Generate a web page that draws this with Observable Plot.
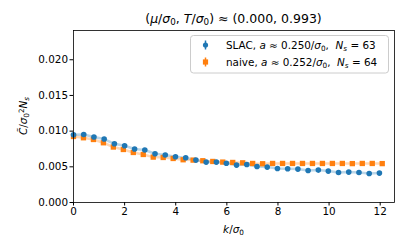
<!DOCTYPE html>
<html><head><meta charset="utf-8">
<script src="https://cdn.jsdelivr.net/npm/d3@7"></script>
<script src="https://cdn.jsdelivr.net/npm/@observablehq/plot@0.6"></script>
<style>
body{margin:0;background:#fff;font-family:"DejaVu Sans",sans-serif;}
#wrap{position:relative;width:407px;height:252px;}
</style></head><body><div id="wrap"></div>
<script>
// ---- data ----
const slacK = [0, 0.40, 0.80, 1.20, 1.60, 2.00, 2.39, 2.79, 3.19, 3.59, 3.99, 4.39, 4.79, 5.19, 5.59, 5.98,
  6.38, 6.78, 7.18, 7.58, 7.98, 8.38, 8.78, 9.18, 9.58, 9.97, 10.37, 10.77, 11.17, 11.57, 11.97];
const slacC = [0.00949, 0.00953, 0.00917, 0.00889, 0.00823, 0.00795, 0.00749, 0.00735, 0.00683, 0.00665,
  0.00641, 0.00627, 0.00594, 0.00566, 0.00566, 0.00549, 0.00524, 0.00533, 0.00505, 0.00496, 0.00477,
  0.00472, 0.00468, 0.00449, 0.00454, 0.00440, 0.00421, 0.00426, 0.00421, 0.00407, 0.00412];
const naiveK = [0, 0.39, 0.78, 1.17, 1.56, 1.95, 2.34, 2.73, 3.12, 3.51, 3.90, 4.29, 4.68, 5.06, 5.45, 5.84,
  6.23, 6.62, 7.01, 7.40, 7.79, 8.18, 8.57, 8.96, 9.35, 9.74, 10.13, 10.52, 10.91, 11.30, 11.69, 12.08];
const naiveC = [0.00925, 0.00907, 0.00883, 0.00837, 0.00777, 0.00743, 0.00701, 0.00673, 0.00636, 0.00631,
  0.00617, 0.00599, 0.00594, 0.00585, 0.00575, 0.00566, 0.00561, 0.00556, 0.00547, 0.00543, 0.00547,
  0.00547, 0.00547, 0.00547, 0.00547, 0.00547, 0.00547, 0.00547, 0.00545, 0.00547, 0.00547, 0.00545];
const xTicks = [0, 2, 4, 6, 8, 10, 12];
const yTicks = [0, 0.005, 0.010, 0.015, 0.020];
const seriesNames = ["SLAC", "naive"];
const seriesA = ["0.250", "0.252"];
const seriesN = ["63", "64"];
const colors = ["#1f77b4", "#ff7f0e"];

const slac = slacK.map((k, i) => ({k, c: slacC[i]}));
const naive = naiveK.map((k, i) => ({k, c: naiveC[i]}));

const plot = Plot.plot({
  width: 407, height: 252,
  marginLeft: 73, marginRight: 13, marginTop: 30, marginBottom: 50,
  style: {fontFamily: "DejaVu Sans", fontSize: "10.4px", color: "black", background: "white"},
  x: {domain: [0, 12.56], label: null},
  y: {domain: [0, 0.0241], label: null},
  marks: [
    Plot.line(slac, {x: "k", y: "c", stroke: colors[0], strokeOpacity: 0.3, strokeWidth: 2.5}),
    Plot.line(naive, {x: "k", y: "c", stroke: colors[1], strokeOpacity: 0.3, strokeWidth: 2.5}),
    Plot.dot(naive, {x: "k", y: "c", fill: colors[1], symbol: "square", r: 3}),
    Plot.dot(slac, {x: "k", y: "c", fill: colors[0], r: 2.8}),
    Plot.axisX({ticks: xTicks, tickFormat: d => String(d), tickSize: 3.5, tickPadding: 2, label: null}),
    Plot.axisY({ticks: yTicks, tickFormat: d3.format(".3f"), tickSize: 3.5, tickPadding: 2, label: null}),
    Plot.frame({stroke: "black", strokeWidth: 0.8})
  ]
});
document.getElementById("wrap").appendChild(plot);

// ---- math-like text helper ----
const svg = d3.select(plot);
function mathText(g, parts) {
  parts.forEach(p => {
    const [t, st] = p;
    const ts = g.append("tspan").text(t);
    if (st && st.includes("i")) ts.attr("font-style", "italic");
    if (st && st.includes("b")) ts.attr("baseline-shift", "-22%").attr("font-size", "70%");
    if (st && st.includes("p")) ts.attr("baseline-shift", "38%").attr("font-size", "70%");
  });
  return g;
}
const ff = "DejaVu Sans";
// title
mathText(svg.append("text").attr("x", 233.5).attr("y", 23).attr("text-anchor", "middle")
  .attr("font-family", ff).attr("font-size", "12.5px").attr("fill", "black"),
  [["("], ["μ", "i"], ["/"], ["σ", "i"], ["0", "b"], [", "], ["T", "i"], ["/"], ["σ", "i"], ["0", "b"], [") ≈ (0.000, 0.993)"]]);
// x label
mathText(svg.append("text").attr("x", 233.5).attr("y", 233).attr("text-anchor", "middle")
  .attr("font-family", ff).attr("font-size", "10.4px").attr("fill", "black"),
  [["k", "i"], ["/"], ["σ", "i"], ["0", "b"]]);
// y label
mathText(svg.append("text").attr("transform", "translate(27,116) rotate(-90)").attr("text-anchor", "middle")
  .attr("font-family", ff).attr("font-size", "10.4px").attr("fill", "black"),
  [["C\u0303", "i"], ["/"], ["σ", "i"], ["0", "b"], ["2", "p"], ["N", "i"], ["s", "ib"]]);

// legend
const lg = svg.append("g").attr("text-anchor", "start");
lg.append("rect").attr("x", 190.5).attr("y", 35.5).attr("width", 198).attr("height", 37.5).attr("rx", 3)
  .attr("fill", "white").attr("fill-opacity", 0.8).attr("stroke", "#cccccc").attr("stroke-width", 1);
seriesNames.forEach((name, i) => {
  const cy = 45 + i * 17;
  lg.append("line").attr("x1", 205.5).attr("x2", 205.5).attr("y1", cy - 4.5).attr("y2", cy + 4.5)
    .attr("stroke", colors[i]).attr("stroke-width", 1.5);
  if (i === 0) lg.append("circle").attr("cx", 205.5).attr("cy", cy).attr("r", 2.6).attr("fill", colors[i]);
  else lg.append("rect").attr("x", 202.9).attr("y", cy - 2.6).attr("width", 5.2).attr("height", 5.2).attr("fill", colors[i]);
  mathText(lg.append("text").attr("x", 226).attr("y", cy + 3.8).attr("text-anchor", "start").attr("font-family", ff)
    .attr("font-size", "10.4px").attr("fill", "black"),
    [[name + ", "], ["a", "i"], [" ≈ " + seriesA[i] + "/"], ["σ", "i"], ["0", "b"], [",  "], ["N", "i"], ["s", "ib"], [" = " + seriesN[i]]]);
});
</script></body></html>
